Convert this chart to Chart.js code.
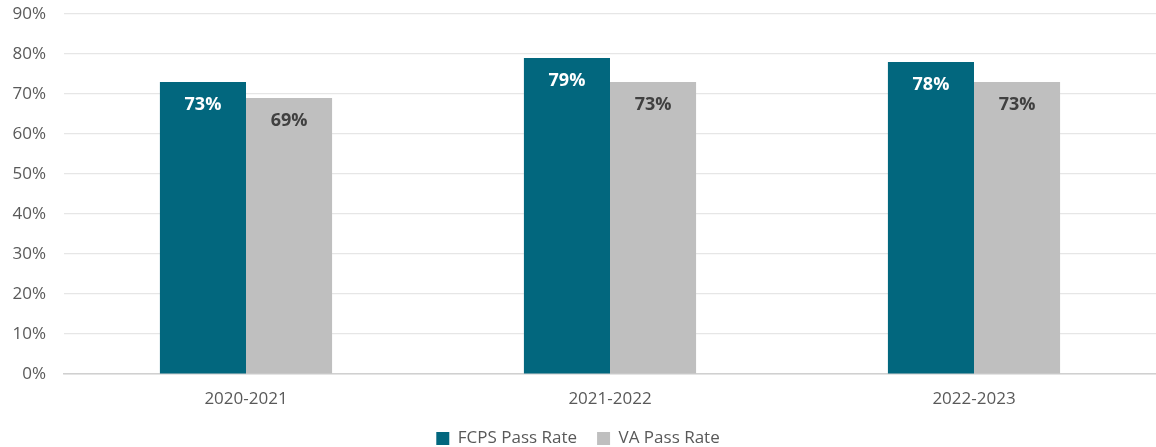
<!DOCTYPE html>
<html>
<head>
<meta charset="utf-8">
<script src="https://cdn.jsdelivr.net/npm/chart.js@4/dist/chart.umd.min.js"></script>
<style>
  body { margin: 0; background: #fff; overflow: hidden; }
  #wrap { width: 1156px; height: 447px; }
</style>
</head>
<body>
<div id="wrap"><canvas id="chart" width="1156" height="447"></canvas></div>
<script>
const years = ["2020-2021", "2021-2022", "2022-2023"];
const fcpsRate = [73, 79, 78];
const vaRate = [69, 73, 73];
const yTicks = [0, 10, 20, 30, 40, 50, 60, 70, 80, 90];

const font = "'Open Sans', 'Noto Sans', sans-serif";

// draws value labels inside the top of each bar
const barLabels = {
  id: "barLabels",
  afterDatasetsDraw(chart) {
    let ctx = chart.ctx;
    ctx.save();
    ctx.font = "bold 18px " + font;
    ctx.textAlign = "center";
    ctx.textBaseline = "middle";
    chart.data.datasets.forEach((ds, i) => {
      chart.getDatasetMeta(i).data.forEach((bar, j) => {
        ctx.fillStyle = ds.labelColor;
        ctx.fillText(ds.data[j] + "%", bar.x, bar.y + 23);
      });
    });
    ctx.restore();
  },
};

new Chart(document.getElementById("chart"), {
  type: "bar",
  data: {
    labels: years,
    datasets: [
      {
        label: "FCPS Pass Rate",
        data: fcpsRate,
        backgroundColor: "#02677E",
        labelColor: "#ffffff",
      },
      {
        label: "VA Pass Rate",
        data: vaRate,
        backgroundColor: "#BFBFBF",
        labelColor: "#404040",
      },
    ],
  },
  options: {
    responsive: false,
    animation: false,
    layout: { padding: { top: 14, right: 0, left: 0, bottom: -10 } },
    datasets: {
      bar: { categoryPercentage: 0.473, barPercentage: 1 },
    },
    plugins: {
      tooltip: { enabled: false },
      legend: {
        position: "bottom",
        labels: {
          boxWidth: 13,
          boxHeight: 13,
          padding: 20,
          color: "#595959",
          font: { family: font, size: 17 },
        },
      },
    },
    scales: {
      x: {
        grid: { display: false, drawTicks: false },
        border: { color: "#d0d0d0", width: 1.5 },
        afterFit: (s) => { s.height = 36; },
        ticks: {
          color: "#595959",
          padding: 15,
          font: { family: font, size: 17 },
        },
      },
      y: {
        min: 0,
        max: 90,
        afterBuildTicks: (s) => { s.ticks = yTicks.map((v) => ({ value: v })); },
        afterFit: (s) => { s.width = 64; s.paddingTop = 0; s.paddingBottom = 0; },
        grid: { color: "#e6e6e6", lineWidth: 1.2, drawTicks: false },
        border: { display: false },
        ticks: {
          color: "#595959",
          padding: 18,
          font: { family: font, size: 17 },
          callback: (v) => v + "%",
        },
      },
    },
  },
  plugins: [barLabels],
});
</script>
</body>
</html>
